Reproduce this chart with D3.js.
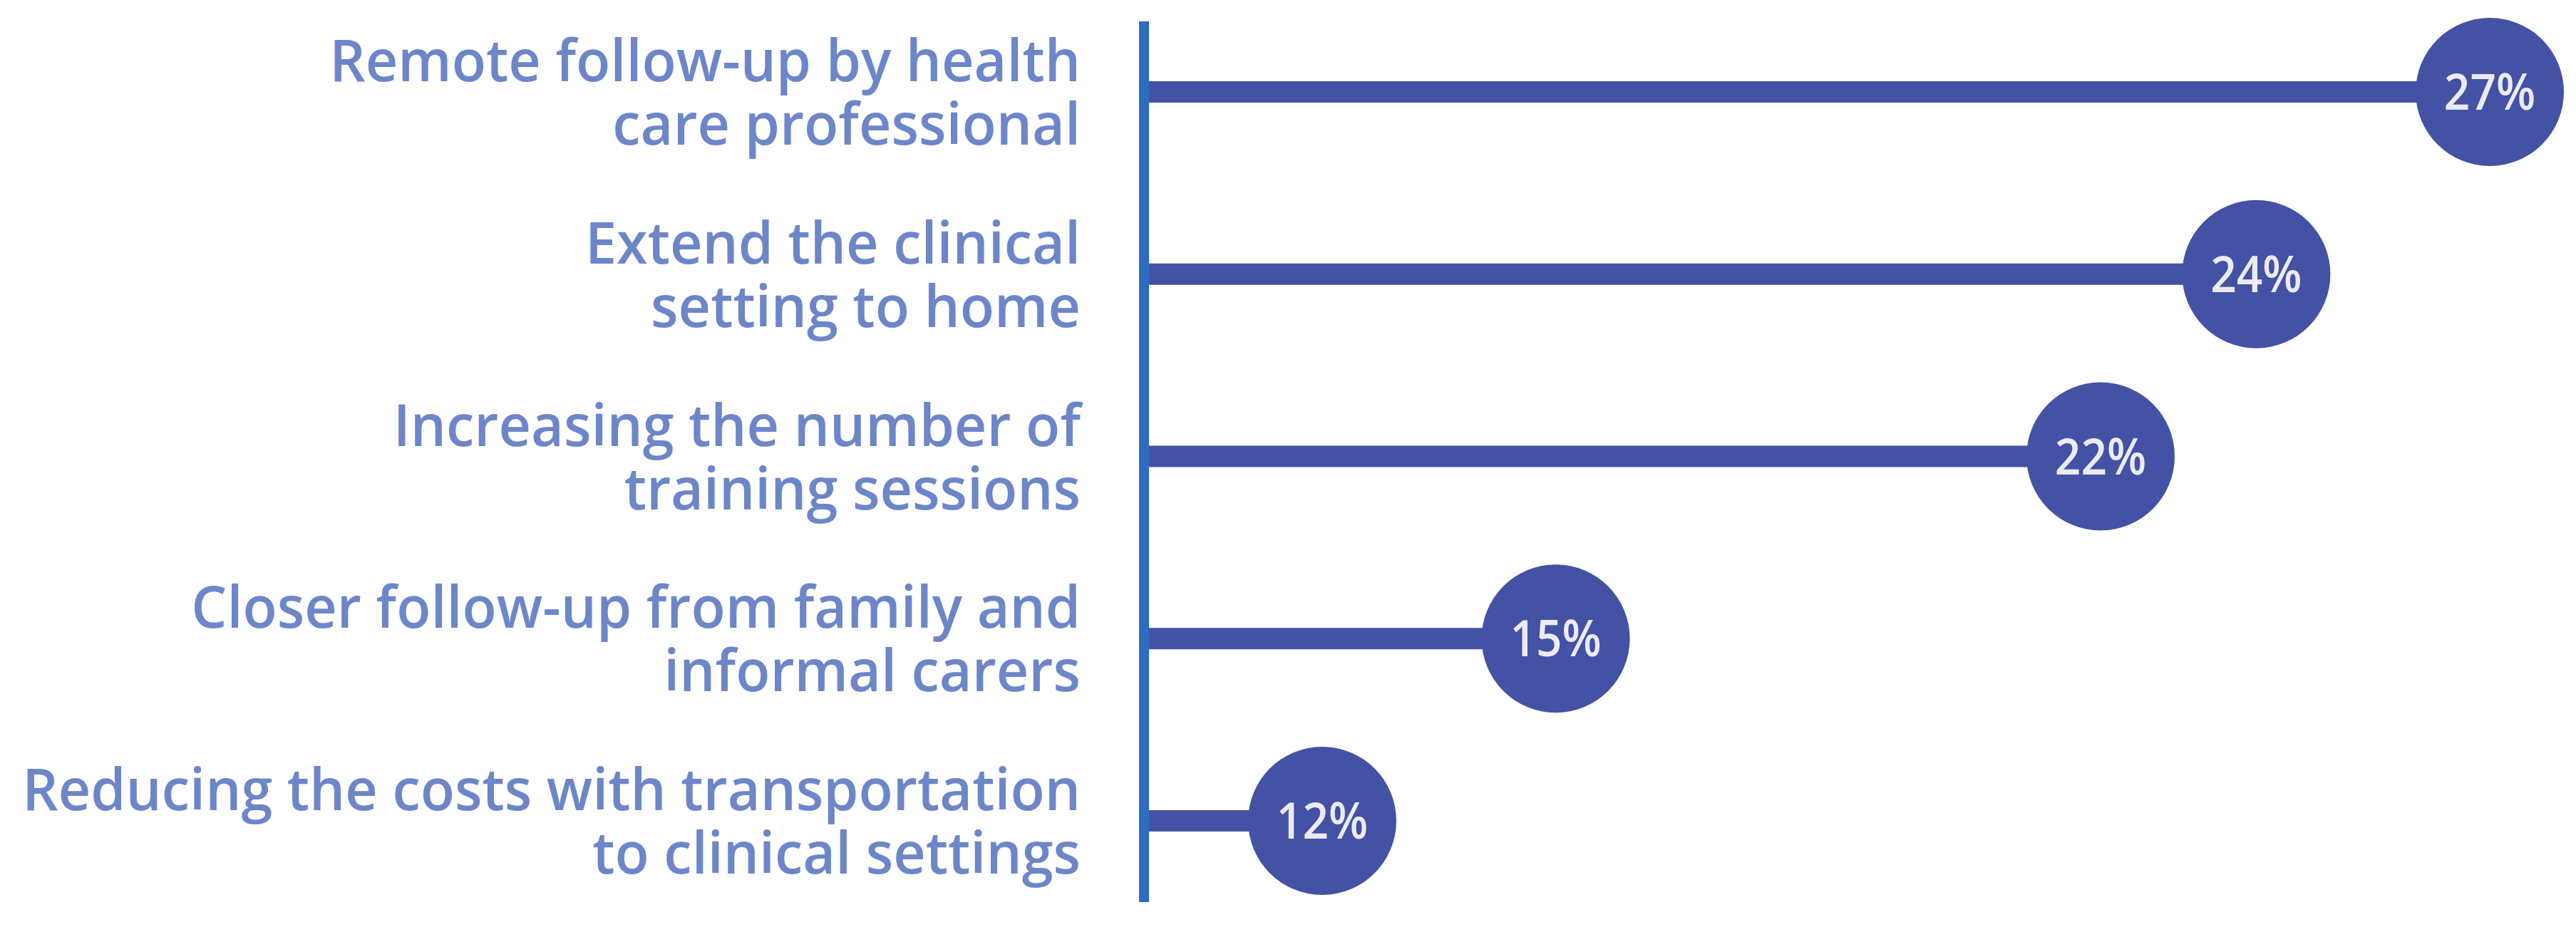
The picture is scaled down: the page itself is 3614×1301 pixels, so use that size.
<!DOCTYPE html>
<html>
<head>
<meta charset="utf-8">
<script src="https://cdn.jsdelivr.net/npm/d3@7/dist/d3.min.js"></script>
<style>
  html, body { margin: 0; padding: 0; background: #ffffff; }
  svg { display: block; }
</style>
</head>
<body>
<script>
// ---- data ----
const categories = [
  "Remote follow-up by health\ncare professional",
  "Extend the clinical\nsetting to home",
  "Increasing the number of\ntraining sessions",
  "Closer follow-up from family and\ninformal carers",
  "Reducing the costs with transportation\nto clinical settings"
];
const values = [27, 24, 22, 15, 12];
const valueLabels = ["27%", "24%", "22%", "15%", "12%"];

// ---- layout ----
const W = 3614, H = 1301;
const axisX = 1605;
const labelRight = 1516;
const labelTargetWidth = 1485;
const colors = { label: "#6d86c9", mark: "#4352a4", axis: "#2d6cc0", valueText: "#ecebf5" };

const svg = d3.select("body").append("svg").attr("width", W).attr("height", H);

const y = d3.scalePoint().domain(categories).range([129, 1152]).padding(0);
const x = d3.scaleLinear().domain([12, 27]).range([1855, 3493]);

// axis line
svg.append("line")
  .attr("x1", axisX).attr("x2", axisX)
  .attr("y1", 30).attr("y2", 1266)
  .attr("stroke", colors.axis).attr("stroke-width", 14);

const rows = categories.map((c, i) => ({ cat: c, v: values[i], lab: valueLabels[i] }));

// stems
svg.append("g").selectAll("rect").data(rows).join("rect")
  .attr("x", axisX + 7)
  .attr("y", d => y(d.cat) - 15)
  .attr("width", d => x(d.v) - axisX - 7)
  .attr("height", 30)
  .attr("fill", colors.mark);

// circles
svg.append("g").selectAll("circle").data(rows).join("circle")
  .attr("cx", d => x(d.v))
  .attr("cy", d => y(d.cat))
  .attr("r", 104)
  .attr("fill", colors.mark);

// value labels
svg.append("g").selectAll("text").data(rows).join("text")
  .attr("transform", d => `translate(${x(d.v)},${y(d.cat) + 25}) scale(0.9,1)`)
  .attr("text-anchor", "middle")
  .attr("font-family", "'Open Sans', sans-serif")
  .attr("font-weight", 600)
  .attr("font-size", 71)
  .attr("fill", colors.valueText)
  .text(d => d.lab);

// category labels
const lg = svg.append("g");
const labels = lg.selectAll("text").data(rows).join("text")
  .attr("text-anchor", "end")
  .attr("font-family", "'Open Sans', sans-serif")
  .attr("font-weight", 600)
  .attr("font-size", 82)
  .attr("fill", colors.label);
labels.each(function(d) {
  const lines = d.cat.split("\n");
  d3.select(this).selectAll("tspan").data(lines).join("tspan")
    .attr("x", 0)
    .attr("y", (l, j) => -15 + j * 89)
    .text(l => l);
});
// compute a horizontal condensation factor so the longest line fits
let maxW = 0;
labels.selectAll("tspan").each(function() { maxW = Math.max(maxW, this.getComputedTextLength()); });
const sx = labelTargetWidth / maxW;
labels.attr("transform", d => `translate(${labelRight},${y(d.cat)}) scale(${sx},1)`);
</script>
</body>
</html>
